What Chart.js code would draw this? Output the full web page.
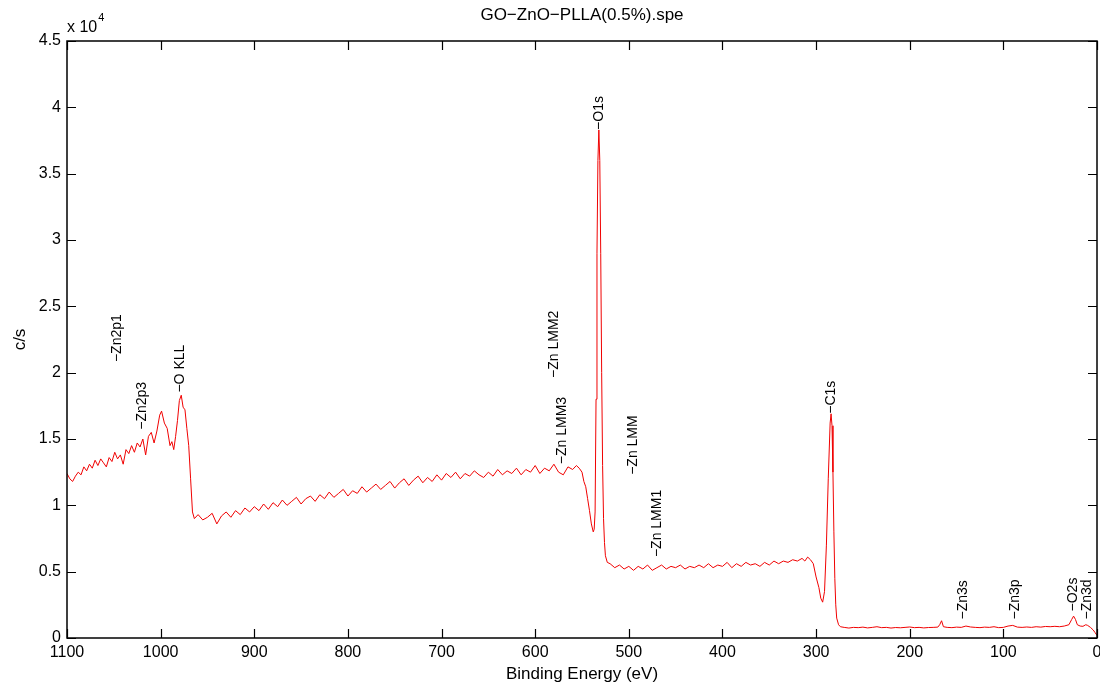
<!DOCTYPE html>
<html>
<head>
<meta charset="utf-8">
<title>GO-ZnO-PLLA XPS survey</title>
<script src="https://cdn.jsdelivr.net/npm/chart.js@4.4.1/dist/chart.umd.min.js"></script>
<style>
  html, body { margin: 0; padding: 0; background: #fff; }
  canvas { display: block; }
</style>
</head>
<body>
<canvas id="xps" width="1100" height="686"></canvas>
<script>
// ===== DATA =====
// binding energy in eV, intensity in units of 1e4 c/s

const energies = [
  1100, 1097, 1094, 1091, 1088, 1085, 1082, 1079, 1076, 1073, 1070, 1067, 1064, 1061, 1058, 1055, 1052, 1049, 1046, 1043,
  1040, 1037, 1034, 1031, 1028, 1025, 1022, 1019, 1016, 1013, 1010, 1007, 1004, 1001, 999, 996, 993, 990, 988, 986,
  984, 982, 980, 978, 976, 974, 972, 970, 968, 966, 964,
  960, 955, 950, 945, 940, 935, 930, 925, 920, 915, 910, 905, 900, 895, 890, 885, 880, 875, 870, 865,
  860, 855, 850, 845, 840, 835, 830, 825, 820, 815, 810, 805, 800, 795, 790, 785, 780, 775, 770, 765,
  760, 755, 750, 745, 740, 735, 730, 725, 720, 715, 710, 705, 700, 695, 690, 685, 680, 675, 670, 665,
  660, 655, 650, 645, 640, 635, 630, 625, 620, 615, 610, 605, 600, 595, 590, 585, 580, 575, 570, 565,
  560, 556, 553, 550, 548, 546, 544, 542, 540, 538, 537, 536, 535, 534, 533, 532, 531, 530, 529, 528,
  527, 526, 525, 523, 520,
  515, 510, 505, 500, 495, 490, 485, 480, 475, 470, 465, 460, 455, 450, 445, 440, 435, 430, 425, 420,
  415, 410, 405, 400, 395, 390, 385, 380, 375, 370, 365, 360, 355, 350, 345, 340, 335, 330, 325, 320,
  315, 312, 309, 306, 303, 300, 297, 295, 293, 291, 289, 287, 285, 284, 283, 282, 281, 280, 279, 278,
  276, 274,
  270, 265, 260, 255, 250, 245, 240, 235, 230, 225, 220, 215, 210, 205, 200, 195, 190, 185, 180, 175,
  170, 168, 166, 164, 160, 155, 150, 145, 140, 135, 130, 125, 120, 115, 110, 105, 100, 95, 90, 85,
  80, 75, 70, 65, 60, 55, 50, 45, 40, 35, 30, 27, 25, 23, 21, 18, 15, 12, 10, 7,
  4, 2, 0
];

const intensity = [
  1.24, 1.20, 1.18, 1.22, 1.25, 1.23, 1.29, 1.26, 1.31, 1.28, 1.34, 1.30, 1.35, 1.32, 1.29, 1.36, 1.33, 1.40, 1.35, 1.38,
  1.31, 1.42, 1.39, 1.45, 1.40, 1.47, 1.44, 1.50, 1.38, 1.52, 1.55, 1.47, 1.56, 1.68, 1.71, 1.62, 1.58, 1.45, 1.48, 1.42,
  1.52, 1.64, 1.79, 1.83, 1.74, 1.72, 1.58, 1.45, 1.20, 0.95, 0.90,
  0.93, 0.89, 0.91, 0.94, 0.86, 0.92, 0.95, 0.91, 0.96, 0.93, 0.98, 0.95, 0.99, 0.96, 1.01, 0.97, 1.02, 0.99, 1.04, 1.00,
  1.03, 1.06, 1.01, 1.05, 1.07, 1.03, 1.08, 1.05, 1.10, 1.06, 1.09, 1.12, 1.07, 1.11, 1.09, 1.14, 1.10, 1.13, 1.16, 1.12,
  1.15, 1.18, 1.13, 1.17, 1.20, 1.15, 1.19, 1.22, 1.17, 1.21, 1.18, 1.23, 1.19, 1.24, 1.21, 1.25, 1.20, 1.24, 1.22, 1.26,
  1.23, 1.21, 1.25, 1.22, 1.27, 1.23, 1.26, 1.24, 1.28, 1.23, 1.27, 1.25, 1.30, 1.24, 1.28, 1.26, 1.31, 1.25, 1.23, 1.29,
  1.27, 1.30, 1.28, 1.25, 1.18, 1.14, 1.05, 0.96, 0.86, 0.80, 0.82, 0.95, 1.80, 2.90, 3.60, 3.83, 3.60, 2.90, 2.00, 1.30,
  0.90, 0.72, 0.62, 0.57, 0.56,
  0.53, 0.55, 0.52, 0.54, 0.51, 0.54, 0.52, 0.55, 0.51, 0.53, 0.55, 0.52, 0.54, 0.53, 0.55, 0.52, 0.54, 0.53, 0.55, 0.53,
  0.56, 0.53, 0.55, 0.54, 0.57, 0.53, 0.56, 0.54, 0.57, 0.55, 0.56, 0.54, 0.57, 0.55, 0.58, 0.56, 0.58, 0.57, 0.59, 0.58,
  0.60, 0.58, 0.61, 0.59, 0.56, 0.46, 0.38, 0.30, 0.27, 0.35, 0.70, 1.20, 1.62, 1.69, 1.60, 1.25, 0.80, 0.45, 0.25, 0.15,
  0.10, 0.085,
  0.080, 0.075, 0.080, 0.078, 0.082, 0.076, 0.080, 0.085, 0.078, 0.080, 0.075, 0.079, 0.077, 0.080, 0.083, 0.078, 0.080, 0.076, 0.079, 0.080,
  0.082, 0.100, 0.130, 0.085, 0.080, 0.078, 0.082, 0.080, 0.090, 0.083, 0.080, 0.078, 0.082, 0.080, 0.085, 0.078, 0.080, 0.090, 0.095, 0.082,
  0.080, 0.083, 0.080, 0.085, 0.082, 0.087, 0.085, 0.088, 0.085, 0.090, 0.100, 0.140, 0.165, 0.140, 0.100, 0.090, 0.088, 0.100, 0.095, 0.080,
  0.060, 0.040, 0.020
];

// peak labels: name, energy (eV), height where the label starts (1e4 c/s)
const peakNames    = ['Zn2p1', 'Zn2p3', 'O KLL', 'Zn LMM2', 'Zn LMM3', 'O1s', 'Zn LMM', 'Zn LMM1', 'C1s', 'Zn3s', 'Zn3p', 'O2s', 'Zn3d'];
const peakEnergies = [1046,    1020,    979,     580,       571,       532,   495,      470,       284,   143,    87,     26,    11];
const peakHeights  = [2.08,    1.57,    1.85,    1.96,      1.31,      3.83,  1.23,     0.61,      1.69,  0.14,   0.14,   0.20,  0.14];

const xTicks = [1100, 1000, 900, 800, 700, 600, 500, 400, 300, 200, 100, 0];
const yTicks = [0, 0.5, 1, 1.5, 2, 2.5, 3, 3.5, 4, 4.5];

const TITLE = 'GO\u2212ZnO\u2212PLLA(0.5%).spe';
const FONT  = '"Liberation Sans", Arial, sans-serif';

// ======== FRAME, INWARD TICKS, TITLE, PEAK LABELS ========
const framePlugin = {
  id: 'frame',
  afterDraw(chart) {
    const { ctx, chartArea: a, scales: { x, y } } = chart;
    ctx.save();
    ctx.strokeStyle = '#000';
    ctx.lineWidth = 1.5;
    ctx.strokeRect(a.left, a.top, a.right - a.left, a.bottom - a.top);

    ctx.lineWidth = 1.2;
    ctx.beginPath();
    xTicks.forEach(v => {
      const px = Math.round(x.getPixelForValue(v)) + 0.5;
      ctx.moveTo(px, a.bottom); ctx.lineTo(px, a.bottom - 9);
      ctx.moveTo(px, a.top);    ctx.lineTo(px, a.top + 9);
    });
    yTicks.forEach(v => {
      const py = Math.round(y.getPixelForValue(v)) + 0.5;
      ctx.moveTo(a.left, py);  ctx.lineTo(a.left + 9, py);
      ctx.moveTo(a.right, py); ctx.lineTo(a.right - 9, py);
    });
    ctx.stroke();

    ctx.fillStyle = '#000';

    // title, centred over the plot box
    ctx.textAlign = 'center';
    ctx.textBaseline = 'middle';
    ctx.font = '17px ' + FONT;
    ctx.fillText(TITLE, (a.left + a.right) / 2, 15);

    // exponent over the y axis
    ctx.textBaseline = 'alphabetic';
    ctx.textAlign = 'left';
    ctx.font = '16px ' + FONT;
    ctx.fillText('x 10', a.left, 32);
    const w = ctx.measureText('x 10').width;
    ctx.font = '11px ' + FONT;
    ctx.fillText('4', a.left + w + 1, 21);

    // peak labels, rotated
    ctx.font = '14px ' + FONT;
    ctx.textBaseline = 'middle';
    peakNames.forEach((name, i) => {
      const px = x.getPixelForValue(peakEnergies[i]);
      const py = y.getPixelForValue(peakHeights[i]);
      ctx.save();
      ctx.translate(px, py);
      ctx.rotate(-Math.PI / 2);
      ctx.fillText('\u2212' + name, 0, 0);
      ctx.restore();
    });
    ctx.restore();
  },
};

// ======== CHART ========
new Chart(document.getElementById('xps'), {
  type: 'line',
  data: {
    datasets: [{
      data: energies.map((e, i) => ({ x: e, y: intensity[i] })),
      borderColor: '#f00000',
      borderWidth: 1,
      pointRadius: 0,
      tension: 0,
      fill: false,
    }],
  },
  options: {
    responsive: false,
    animation: false,
    devicePixelRatio: 1,
    layout: { padding: { top: 41, right: 3, left: 0, bottom: 0 } },
    plugins: {
      legend: { display: false },
      tooltip: { enabled: false },
      title: { display: false },
    },
    scales: {
      x: {
        type: 'linear',
        reverse: true,
        min: 0, max: 1100,
        grid: { display: false, drawTicks: false },
        border: { display: false },
        afterBuildTicks: s => { s.ticks = xTicks.map(v => ({ value: v })); },
        afterFit: s => { s.height = 48; s.paddingLeft = 0; s.paddingRight = 0; },
        ticks: {
          color: '#000', padding: 5, maxRotation: 0, autoSkip: false,
          font: { family: FONT, size: 16 },
          callback: v => String(v),
        },
        title: {
          display: true, text: 'Binding Energy (eV)', color: '#000',
          font: { family: FONT, size: 17 }, padding: { top: 0, bottom: 1 },
        },
      },
      y: {
        type: 'linear',
        min: 0, max: 4.5,
        grid: { display: false, drawTicks: false },
        border: { display: false },
        afterBuildTicks: s => { s.ticks = yTicks.map(v => ({ value: v })); },
        afterFit: s => { s.width = 67; s.paddingTop = 0; s.paddingBottom = 0; },
        ticks: {
          color: '#000', padding: 6, autoSkip: false,
          font: { family: FONT, size: 16 },
          callback: v => String(v),
        },
        title: {
          display: true, text: 'c/s', color: '#000',
          font: { family: FONT, size: 17 }, padding: { top: 10, bottom: 0 },
        },
      },
    },
  },
  plugins: [framePlugin],
});
</script>
</body>
</html>
